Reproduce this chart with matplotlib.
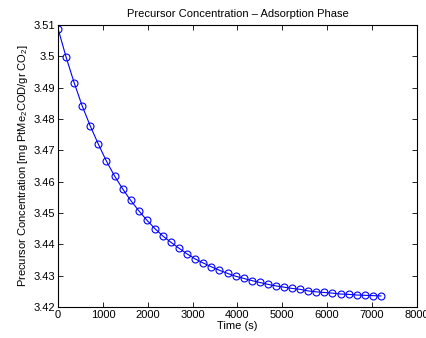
import matplotlib
matplotlib.use("Agg")
import matplotlib.pyplot as plt

plt.rcParams['font.family'] = ['Liberation Sans', 'DejaVu Sans']
plt.rcParams['mathtext.fontset'] = 'custom'
plt.rcParams['mathtext.rm'] = 'Liberation Sans'
plt.rcParams['mathtext.it'] = 'Liberation Sans'
plt.rcParams['mathtext.default'] = 'regular'

# time points (s)
time_s = [0, 180, 360, 540, 720, 900, 1080, 1260, 1440, 1620, 1800,
          1980, 2160, 2340, 2520, 2700, 2880, 3060, 3240, 3420, 3600,
          3780, 3960, 4140, 4320, 4500, 4680, 4860, 5040, 5220, 5400,
          5580, 5760, 5940, 6120, 6300, 6480, 6660, 6840, 7020, 7200]
# concentration
conc = [3.5088, 3.4997, 3.4915, 3.4841, 3.4777, 3.4719, 3.4665, 3.4618,
        3.4577, 3.4540, 3.4507, 3.4477, 3.4450, 3.4426, 3.4406, 3.4387,
        3.4369, 3.4353, 3.4340, 3.4328, 3.4317, 3.4307, 3.4298, 3.4291,
        3.4284, 3.4278, 3.4272, 3.4267, 3.4263, 3.4259, 3.4256, 3.4251,
        3.4248, 3.4246, 3.4244, 3.4241, 3.4240, 3.4238, 3.4237, 3.4236,
        3.4235]
xticks = [0, 1000, 2000, 3000, 4000, 5000, 6000, 7000, 8000]
yticks = [3.42, 3.43, 3.44, 3.45, 3.46, 3.47, 3.48, 3.49, 3.5, 3.51]
ytick_labels = ['3.42', '3.43', '3.44', '3.45', '3.46', '3.47', '3.48', '3.49', '3.5', '3.51']

fig = plt.figure(figsize=(4.27, 3.38), dpi=100)
ax = fig.add_axes([0.136, 0.092, 0.840, 0.834])

ax.plot(time_s, conc, color='blue', lw=0.8, marker='o', ms=5.0,
        mfc='none', mec='blue', mew=0.8)

ax.set_xlim(0, 8000)
ax.set_ylim(3.42, 3.51)
ax.set_xticks(xticks)
ax.set_yticks(yticks)
ax.set_yticklabels(ytick_labels)
ax.tick_params(direction='in', top=True, right=True, length=3.5, width=0.6,
               labelsize=8, pad=2)
for s in ax.spines.values():
    s.set_linewidth(0.8)

ax.set_title('Precursor Concentration \u2013 Adsorption Phase', fontsize=8, pad=6)
ax.set_xlabel('Time (s)', fontsize=8, labelpad=1)
ax.set_ylabel('Precursor Concentration [mg PtMe$_2$COD/gr CO$_2$]', fontsize=8, labelpad=3)

fig.savefig('out.png', dpi=100)
